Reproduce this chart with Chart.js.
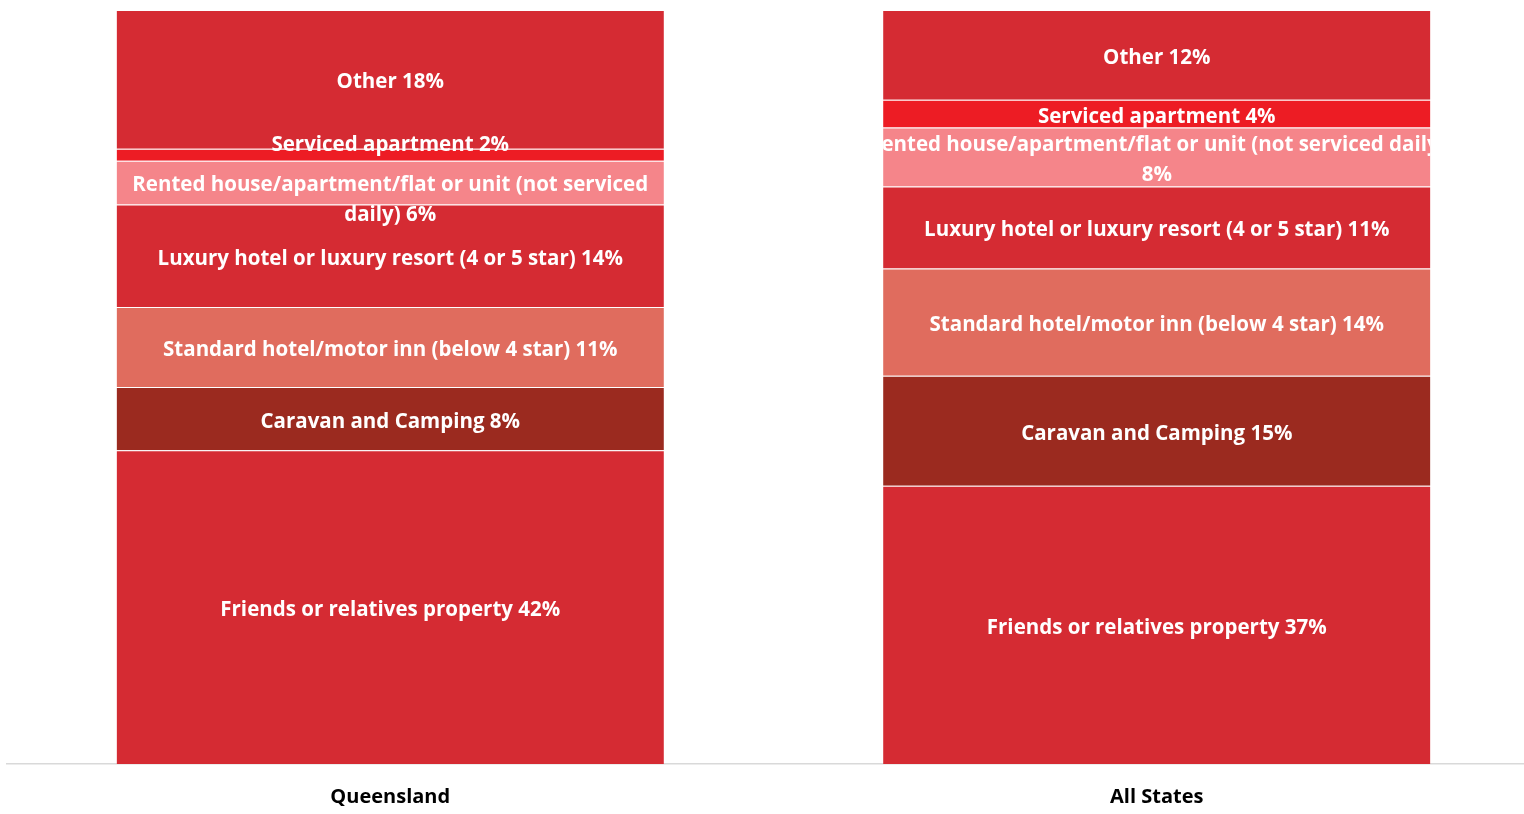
<!DOCTYPE html>
<html>
<head>
<meta charset="utf-8">
<script src="https://cdn.jsdelivr.net/npm/chart.js@4.4.0/dist/chart.umd.min.js"></script>
<style>
  html, body { margin: 0; padding: 0; background: #fff; overflow: hidden; }
  #wrap { width: 1545px; height: 814px; }
</style>
</head>
<body>
<div id="wrap"><canvas id="cvg"></canvas></div>
<script>
// categories (bars)
var regions = ['Queensland', 'All States'];

// share of nights by accommodation type, in %, [Queensland, All States]
var friends   = [41.6, 36.9];
var caravan   = [8.4, 14.6];
var standard  = [10.6, 14.2];
var luxury    = [13.6, 10.9];
var rented    = [5.8, 7.8];
var serviced  = [1.6, 3.7];
var other     = [18.4, 11.9];

var seriesNames = [
  'Friends or relatives property',
  'Caravan and Camping',
  'Standard hotel/motor inn (below 4 star)',
  'Luxury hotel or luxury resort (4 or 5 star)',
  'Rented house/apartment/flat or unit (not serviced daily)',
  'Serviced apartment',
  'Other'
];
var seriesData = [friends, caravan, standard, luxury, rented, serviced, other];
var seriesColors = ['#d52b33', '#9b2a1f', '#e06c5e', '#d52b33', '#f5858a', '#ed1c24', '#d52b33'];

var FONT = '"Open Sans", sans-serif';

// segment labels drawn inside the bars, clipped to the bar
var segLabels = {
  id: 'segLabels',
  afterDatasetsDraw: function(chart, args, opts) {
    var ctx = chart.ctx;
    ctx.save();
    ctx.font = 'bold 20.5px ' + FONT;
    ctx.fillStyle = '#fff';
    ctx.textAlign = 'center';
    ctx.textBaseline = 'middle';
    chart.data.datasets.forEach(function(ds, di) {
      var meta = chart.getDatasetMeta(di);
      meta.data.forEach(function(bar, i) {
        var p = bar.getProps(['x', 'y', 'base', 'width'], true);
        var text = ds.label + ' ' + Math.round(ds.data[i]) + '%';
        // wrap words
        var maxW = opts.wrap[i];
        var words = text.split(' '), lines = [], cur = '';
        words.forEach(function(w) {
          var t = cur ? cur + ' ' + w : w;
          if (ctx.measureText(t).width > maxW && cur) { lines.push(cur); cur = w; }
          else cur = t;
        });
        lines.push(cur);
        var lh = 30;
        var nudge = (opts.nudge[di] && opts.nudge[di][i]) || 0;
        var cy = (p.y + p.base) / 2 + 3 + nudge - (lines.length - 1) * lh / 2;
        ctx.save();
        ctx.beginPath();
        ctx.rect(p.x - p.width / 2, 0, p.width, chart.height);
        ctx.clip();
        lines.forEach(function(l, k) { ctx.fillText(l, p.x, cy + k * lh); });
        ctx.restore();
      });
    });
    ctx.restore();
  }
};

var ctx = document.getElementById('cvg').getContext('2d');
var myChart = new Chart(ctx, {
  type: 'bar',
  data: {
    labels: regions,
    datasets: seriesNames.map(function(n, k) {
      return {
        label: n,
        data: seriesData[k],
        backgroundColor: seriesColors[k],
        borderColor: 'rgba(255,255,255,0.18)',
        borderWidth: { top: 1 },
        borderSkipped: false,
        categoryPercentage: 1,
        barPercentage: 0.714
      };
    })
  },
  options: {
    responsive: true,
    maintainAspectRatio: false,
    animation: false,
    layout: { padding: { top: 10, left: 7, right: 5, bottom: 0 } },
    plugins: {
      legend: { display: false },
      tooltip: { enabled: false },
      segLabels: {
        wrap: [535, 600],
        nudge: { 4: [14, 0], 5: [-13, 0] }
      }
    },
    scales: {
      x: {
        stacked: true,
        grid: { display: false },
        border: { display: true, color: '#d9d9d9', width: 1.5 },
        ticks: { color: '#000', font: { family: FONT, size: 20, weight: 'bold' }, padding: 13 },
        afterFit: function(scale) { scale.height = 50; }
      },
      y: {
        stacked: true,
        display: false,
        min: 0,
        max: 100
      }
    }
  },
  plugins: [segLabels]
});
</script>
</body>
</html>
